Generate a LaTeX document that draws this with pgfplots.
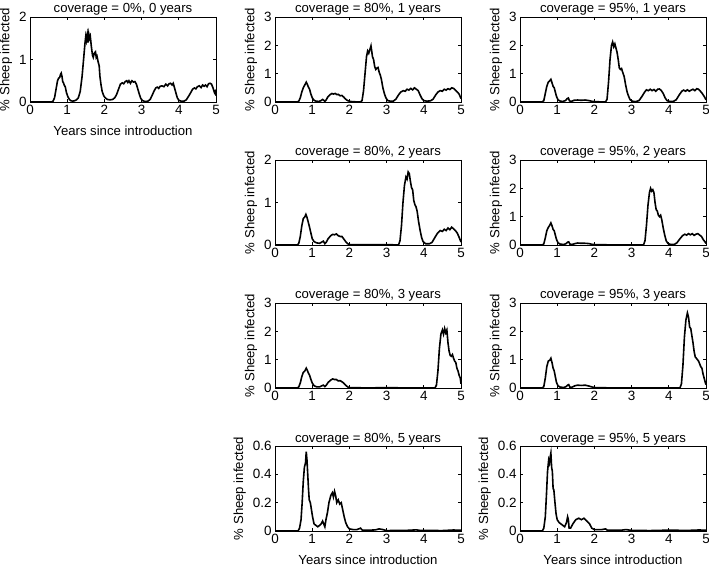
\documentclass[border=0pt]{standalone}
\usepackage{fontspec}
\setmainfont{Liberation Sans}
\usepackage{pgfplots}
\pgfplotsset{compat=1.18}

\pgfplotsset{panel/.style={scale only axis,width=186bp,height=85bp,anchor=south west,
  xmin=0,xmax=5,ymin=0,xtick={0,1,2,3,4,5},tick align=inside,clip mode=individual,
  axis line style={line width=0.9bp},tick style={black,line width=0.7bp},major tick length=3bp,
  ticklabel style={font=\fontsize{13.5}{15}\selectfont},
  label style={font=\fontsize{13.2}{15}\selectfont},
  ylabel={\% Sheep infected},
  xlabel style={yshift=-4bp},
  /pgf/number format/assume math mode=true,
  cycle list={{black,mark=none}},
  every axis plot post/.append style={line width=1.6bp}}}
\newcommand\ptitle[1]{\node[font=\fontsize{13.2}{15}\selectfont,anchor=base,inner sep=0pt] at ([yshift=4bp]rel axis cs:0.5,1) {#1};}

\begin{document}
\begin{tikzpicture}
\useasboundingbox (0bp,0bp) rectangle (709bp,567bp);

% column 1
\begin{axis}[panel,at={(30bp,465bp)},ymax=2,ytick={0,1,2},xlabel={Years since introduction}]
\addplot coordinates {(0,0)(0.58,0)(0.62,0.02)(0.66,0.1)(0.7,0.3)(0.74,0.5)(0.77,0.56)(0.8,0.58)(0.82,0.65)(0.84,0.68)(0.86,0.6)(0.88,0.48)(0.9,0.45)(0.92,0.4)(0.95,0.35)(0.98,0.22)(1.02,0.12)(1.06,0.06)(1.1,0.03)(1.15,0.02)(1.2,0.03)(1.25,0.05)(1.3,0.1)(1.35,0.25)(1.4,0.6)(1.45,1.1)(1.48,1.4)(1.5,1.55)(1.52,1.45)(1.54,1.58)(1.56,1.4)(1.58,1.6)(1.6,1.5)(1.62,1.55)(1.65,1.3)(1.68,1.1)(1.7,1.05)(1.73,1.15)(1.76,1.18)(1.78,1.05)(1.8,1.08)(1.83,0.95)(1.86,0.85)(1.88,0.6)(1.91,0.4)(1.94,0.25)(1.98,0.15)(2.02,0.1)(2.08,0.06)(2.15,0.05)(2.22,0.06)(2.28,0.1)(2.33,0.18)(2.38,0.3)(2.43,0.42)(2.48,0.45)(2.52,0.43)(2.56,0.48)(2.6,0.5)(2.63,0.46)(2.66,0.5)(2.7,0.44)(2.74,0.5)(2.78,0.47)(2.82,0.48)(2.86,0.42)(2.9,0.3)(2.94,0.18)(2.98,0.08)(3.03,0.03)(3.1,0.01)(3.17,0.02)(3.23,0.06)(3.28,0.15)(3.33,0.25)(3.38,0.33)(3.42,0.35)(3.46,0.32)(3.5,0.37)(3.55,0.38)(3.6,0.36)(3.65,0.42)(3.7,0.38)(3.74,0.43)(3.78,0.44)(3.82,0.4)(3.85,0.44)(3.88,0.35)(3.92,0.22)(3.96,0.1)(4.0,0.04)(4.06,0.02)(4.14,0.02)(4.2,0.05)(4.26,0.13)(4.32,0.22)(4.37,0.3)(4.42,0.33)(4.46,0.31)(4.5,0.36)(4.55,0.38)(4.6,0.34)(4.64,0.4)(4.68,0.37)(4.72,0.4)(4.76,0.36)(4.8,0.43)(4.84,0.44)(4.88,0.42)(4.92,0.33)(4.96,0.22)(4.98,0.25)(5.0,0.15)};
\ptitle{coverage = 0\%, 0 years}
\end{axis}

% column 2
\begin{axis}[panel,at={(275bp,465bp)},ymax=3,ytick={0,1,2,3}]
\addplot coordinates {(0,0)(0.6,0)(0.64,0.03)(0.68,0.15)(0.72,0.35)(0.76,0.5)(0.8,0.6)(0.84,0.7)(0.87,0.62)(0.9,0.52)(0.93,0.45)(0.96,0.3)(1.0,0.15)(1.05,0.06)(1.1,0.03)(1.18,0.02)(1.24,0.05)(1.28,0.09)(1.31,0.06)(1.34,0.02)(1.38,0.08)(1.42,0.18)(1.48,0.26)(1.53,0.3)(1.57,0.28)(1.62,0.3)(1.66,0.26)(1.7,0.27)(1.75,0.22)(1.8,0.23)(1.85,0.17)(1.9,0.1)(1.95,0.05)(2.02,0.02)(2.1,0.01)(2.3,0)(2.34,0.05)(2.38,0.4)(2.42,1.0)(2.46,1.6)(2.49,1.8)(2.52,1.72)(2.55,1.85)(2.58,1.98)(2.6,1.8)(2.62,1.6)(2.65,1.5)(2.68,1.25)(2.71,1.15)(2.74,1.2)(2.77,1.22)(2.8,1.05)(2.83,0.95)(2.86,0.8)(2.9,0.5)(2.94,0.3)(2.98,0.15)(3.03,0.05)(3.1,0.03)(3.18,0.03)(3.25,0.1)(3.32,0.25)(3.38,0.35)(3.45,0.4)(3.5,0.38)(3.55,0.45)(3.6,0.42)(3.65,0.48)(3.7,0.43)(3.75,0.5)(3.8,0.45)(3.85,0.4)(3.9,0.25)(3.95,0.12)(4.0,0.05)(4.08,0.03)(4.18,0.04)(4.25,0.1)(4.32,0.25)(4.38,0.35)(4.44,0.4)(4.5,0.38)(4.55,0.45)(4.6,0.42)(4.65,0.47)(4.7,0.44)(4.75,0.5)(4.8,0.48)(4.85,0.42)(4.9,0.35)(4.95,0.28)(5,0.12)};
\ptitle{coverage = 80\%, 1 years}
\end{axis}

\begin{axis}[panel,at={(275bp,322bp)},ymax=2,ytick={0,1,2}]
\addplot coordinates {(0,0)(0.6,0)(0.64,0.04)(0.68,0.2)(0.72,0.45)(0.76,0.62)(0.8,0.66)(0.83,0.72)(0.86,0.65)(0.89,0.55)(0.92,0.45)(0.96,0.3)(1.0,0.15)(1.05,0.08)(1.12,0.05)(1.2,0.04)(1.26,0.07)(1.3,0.09)(1.34,0.03)(1.38,0.07)(1.43,0.15)(1.5,0.22)(1.55,0.25)(1.6,0.24)(1.65,0.26)(1.7,0.22)(1.75,0.2)(1.8,0.2)(1.85,0.14)(1.9,0.08)(1.95,0.03)(2.02,0.01)(2.5,0.005)(3.0,0.01)(3.32,0)(3.36,0.1)(3.4,0.45)(3.44,1.0)(3.48,1.4)(3.52,1.6)(3.55,1.55)(3.58,1.72)(3.61,1.68)(3.64,1.5)(3.67,1.35)(3.7,1.3)(3.73,1.05)(3.76,0.95)(3.79,0.9)(3.82,0.8)(3.86,0.55)(3.9,0.35)(3.94,0.18)(3.98,0.08)(4.05,0.03)(4.15,0.03)(4.22,0.06)(4.3,0.18)(4.37,0.28)(4.44,0.34)(4.5,0.32)(4.55,0.37)(4.6,0.34)(4.65,0.4)(4.7,0.36)(4.75,0.42)(4.8,0.38)(4.85,0.34)(4.9,0.28)(4.95,0.18)(5,0.07)};
\ptitle{coverage = 80\%, 2 years}
\end{axis}

\begin{axis}[panel,at={(275bp,179bp)},ymax=3,ytick={0,1,2,3}]
\addplot coordinates {(0,0)(0.6,0)(0.64,0.04)(0.68,0.18)(0.72,0.4)(0.76,0.55)(0.8,0.6)(0.84,0.7)(0.87,0.62)(0.9,0.52)(0.93,0.45)(0.96,0.32)(1.0,0.18)(1.05,0.08)(1.12,0.04)(1.2,0.04)(1.26,0.08)(1.3,0.1)(1.34,0.05)(1.38,0.1)(1.43,0.2)(1.5,0.28)(1.55,0.32)(1.6,0.3)(1.65,0.3)(1.7,0.25)(1.75,0.26)(1.8,0.22)(1.85,0.17)(1.9,0.1)(1.95,0.04)(2.02,0.01)(2.5,0.005)(3.0,0.01)(3.5,0.005)(4.0,0.005)(4.3,0)(4.34,0.1)(4.38,0.6)(4.42,1.4)(4.46,1.9)(4.5,2.05)(4.53,1.9)(4.56,2.1)(4.59,1.95)(4.62,2.05)(4.65,1.6)(4.68,1.3)(4.71,1.15)(4.74,1.12)(4.77,1.18)(4.8,1.05)(4.83,0.95)(4.86,0.9)(4.89,0.7)(4.92,0.6)(4.95,0.45)(4.98,0.35)(5,0.15)};
\ptitle{coverage = 80\%, 3 years}
\end{axis}

\begin{axis}[panel,at={(275bp,36bp)},ymax=0.6,ytick={0,0.2,0.4,0.6},xlabel={Years since introduction}]
\addplot coordinates {(0,0)(0.62,0)(0.66,0.02)(0.7,0.08)(0.73,0.2)(0.76,0.35)(0.79,0.45)(0.82,0.48)(0.84,0.56)(0.86,0.5)(0.88,0.4)(0.9,0.3)(0.92,0.22)(0.95,0.2)(0.98,0.15)(1.01,0.1)(1.05,0.05)(1.1,0.04)(1.15,0.03)(1.2,0.04)(1.24,0.05)(1.28,0.07)(1.31,0.05)(1.34,0.03)(1.37,0.08)(1.41,0.13)(1.45,0.2)(1.5,0.25)(1.54,0.27)(1.57,0.24)(1.6,0.28)(1.63,0.25)(1.66,0.2)(1.7,0.22)(1.74,0.19)(1.78,0.2)(1.82,0.15)(1.86,0.1)(1.9,0.06)(1.95,0.03)(2.0,0.015)(2.1,0.01)(2.2,0.01)(2.3,0.02)(2.35,0.005)(2.5,0.005)(2.7,0.008)(2.8,0.015)(2.9,0.01)(3.0,0.003)(3.5,0.004)(3.8,0.008)(3.9,0.004)(4.5,0.003)(4.8,0.007)(5,0.005)};
\ptitle{coverage = 80\%, 5 years}
\end{axis}

% column 3
\begin{axis}[panel,at={(520bp,465bp)},ymax=3,ytick={0,1,2,3}]
\addplot coordinates {(0,0)(0.6,0)(0.64,0.05)(0.68,0.3)(0.72,0.55)(0.76,0.7)(0.8,0.75)(0.83,0.8)(0.86,0.68)(0.89,0.55)(0.92,0.5)(0.95,0.35)(0.98,0.2)(1.02,0.08)(1.08,0.03)(1.15,0.02)(1.22,0.05)(1.27,0.12)(1.3,0.14)(1.33,0.04)(1.38,0.02)(1.45,0.06)(1.55,0.07)(1.65,0.06)(1.75,0.07)(1.85,0.05)(1.95,0.02)(2.05,0.01)(2.3,0)(2.34,0.1)(2.38,0.7)(2.42,1.5)(2.46,2.0)(2.49,2.12)(2.52,1.95)(2.55,2.05)(2.58,1.9)(2.61,1.75)(2.64,1.5)(2.67,1.2)(2.7,1.15)(2.73,1.18)(2.76,1.05)(2.8,0.9)(2.84,0.6)(2.88,0.35)(2.92,0.2)(2.96,0.08)(3.02,0.03)(3.1,0.01)(3.2,0.05)(3.28,0.2)(3.35,0.35)(3.4,0.43)(3.45,0.4)(3.5,0.45)(3.55,0.4)(3.6,0.44)(3.65,0.38)(3.7,0.45)(3.75,0.46)(3.8,0.4)(3.85,0.3)(3.9,0.15)(3.95,0.05)(4.02,0.02)(4.12,0.02)(4.2,0.08)(4.28,0.25)(4.35,0.38)(4.4,0.42)(4.45,0.38)(4.5,0.43)(4.55,0.38)(4.6,0.42)(4.65,0.45)(4.7,0.4)(4.75,0.47)(4.8,0.45)(4.85,0.38)(4.9,0.3)(4.95,0.2)(5,0.08)};
\ptitle{coverage = 95\%, 1 years}
\end{axis}

\begin{axis}[panel,at={(520bp,322bp)},ymax=3,ytick={0,1,2,3}]
\addplot coordinates {(0,0)(0.6,0)(0.64,0.04)(0.68,0.25)(0.72,0.5)(0.76,0.62)(0.8,0.7)(0.83,0.78)(0.86,0.68)(0.89,0.55)(0.92,0.5)(0.95,0.35)(0.98,0.2)(1.02,0.08)(1.08,0.03)(1.18,0.02)(1.24,0.05)(1.28,0.1)(1.31,0.11)(1.34,0.03)(1.4,0.02)(1.48,0.05)(1.55,0.07)(1.65,0.06)(1.75,0.06)(1.85,0.05)(1.95,0.02)(2.05,0.01)(2.5,0.005)(3.0,0.005)(3.32,0)(3.36,0.15)(3.4,0.7)(3.44,1.4)(3.48,1.85)(3.51,2.0)(3.54,1.9)(3.57,1.95)(3.6,1.85)(3.63,1.5)(3.66,1.25)(3.69,1.2)(3.72,1.05)(3.75,1.0)(3.78,1.05)(3.81,0.9)(3.85,0.6)(3.89,0.35)(3.93,0.15)(3.98,0.05)(4.05,0.02)(4.15,0.02)(4.22,0.08)(4.3,0.22)(4.37,0.33)(4.43,0.38)(4.48,0.35)(4.53,0.4)(4.58,0.36)(4.63,0.4)(4.68,0.34)(4.73,0.38)(4.78,0.4)(4.83,0.35)(4.88,0.3)(4.93,0.18)(4.97,0.12)(5,0.05)};
\ptitle{coverage = 95\%, 2 years}
\end{axis}

\begin{axis}[panel,at={(520bp,179bp)},ymax=3,ytick={0,1,2,3}]
\addplot coordinates {(0,0)(0.6,0)(0.64,0.05)(0.68,0.35)(0.72,0.75)(0.76,0.95)(0.8,0.98)(0.83,1.05)(0.86,0.9)(0.89,0.7)(0.92,0.6)(0.95,0.4)(0.98,0.2)(1.02,0.08)(1.08,0.03)(1.18,0.02)(1.24,0.05)(1.28,0.1)(1.31,0.12)(1.34,0.03)(1.4,0.03)(1.48,0.08)(1.55,0.1)(1.65,0.09)(1.75,0.1)(1.85,0.07)(1.95,0.03)(2.05,0.01)(2.5,0.005)(3.0,0.005)(3.5,0.005)(4.0,0.005)(4.3,0)(4.34,0.15)(4.38,0.8)(4.42,1.8)(4.46,2.4)(4.5,2.65)(4.53,2.5)(4.56,2.15)(4.59,2.1)(4.62,1.85)(4.65,1.6)(4.68,1.3)(4.71,1.1)(4.74,1.05)(4.77,1.0)(4.8,0.95)(4.83,0.85)(4.86,0.75)(4.89,0.7)(4.92,0.5)(4.95,0.35)(4.98,0.2)(5,0.12)};
\ptitle{coverage = 95\%, 3 years}
\end{axis}

\begin{axis}[panel,at={(520bp,36bp)},ymax=0.6,ytick={0,0.2,0.4,0.6},xlabel={Years since introduction}]
\addplot coordinates {(0,0)(0.6,0)(0.64,0.02)(0.68,0.1)(0.71,0.25)(0.74,0.42)(0.77,0.5)(0.79,0.48)(0.81,0.52)(0.83,0.55)(0.85,0.45)(0.87,0.42)(0.89,0.3)(0.91,0.29)(0.94,0.2)(0.97,0.12)(1.0,0.08)(1.05,0.06)(1.1,0.05)(1.15,0.04)(1.2,0.03)(1.25,0.06)(1.28,0.1)(1.3,0.08)(1.32,0.02)(1.36,0.02)(1.42,0.05)(1.5,0.08)(1.58,0.09)(1.65,0.08)(1.72,0.09)(1.8,0.07)(1.87,0.05)(1.93,0.02)(2.0,0.01)(2.2,0.01)(2.3,0.015)(2.35,0.005)(2.7,0.005)(2.85,0.01)(3.0,0.004)(3.5,0.003)(4.0,0.006)(4.5,0.004)(4.8,0.007)(5,0.006)};
\ptitle{coverage = 95\%, 5 years}
\end{axis}
\end{tikzpicture}
\end{document}
